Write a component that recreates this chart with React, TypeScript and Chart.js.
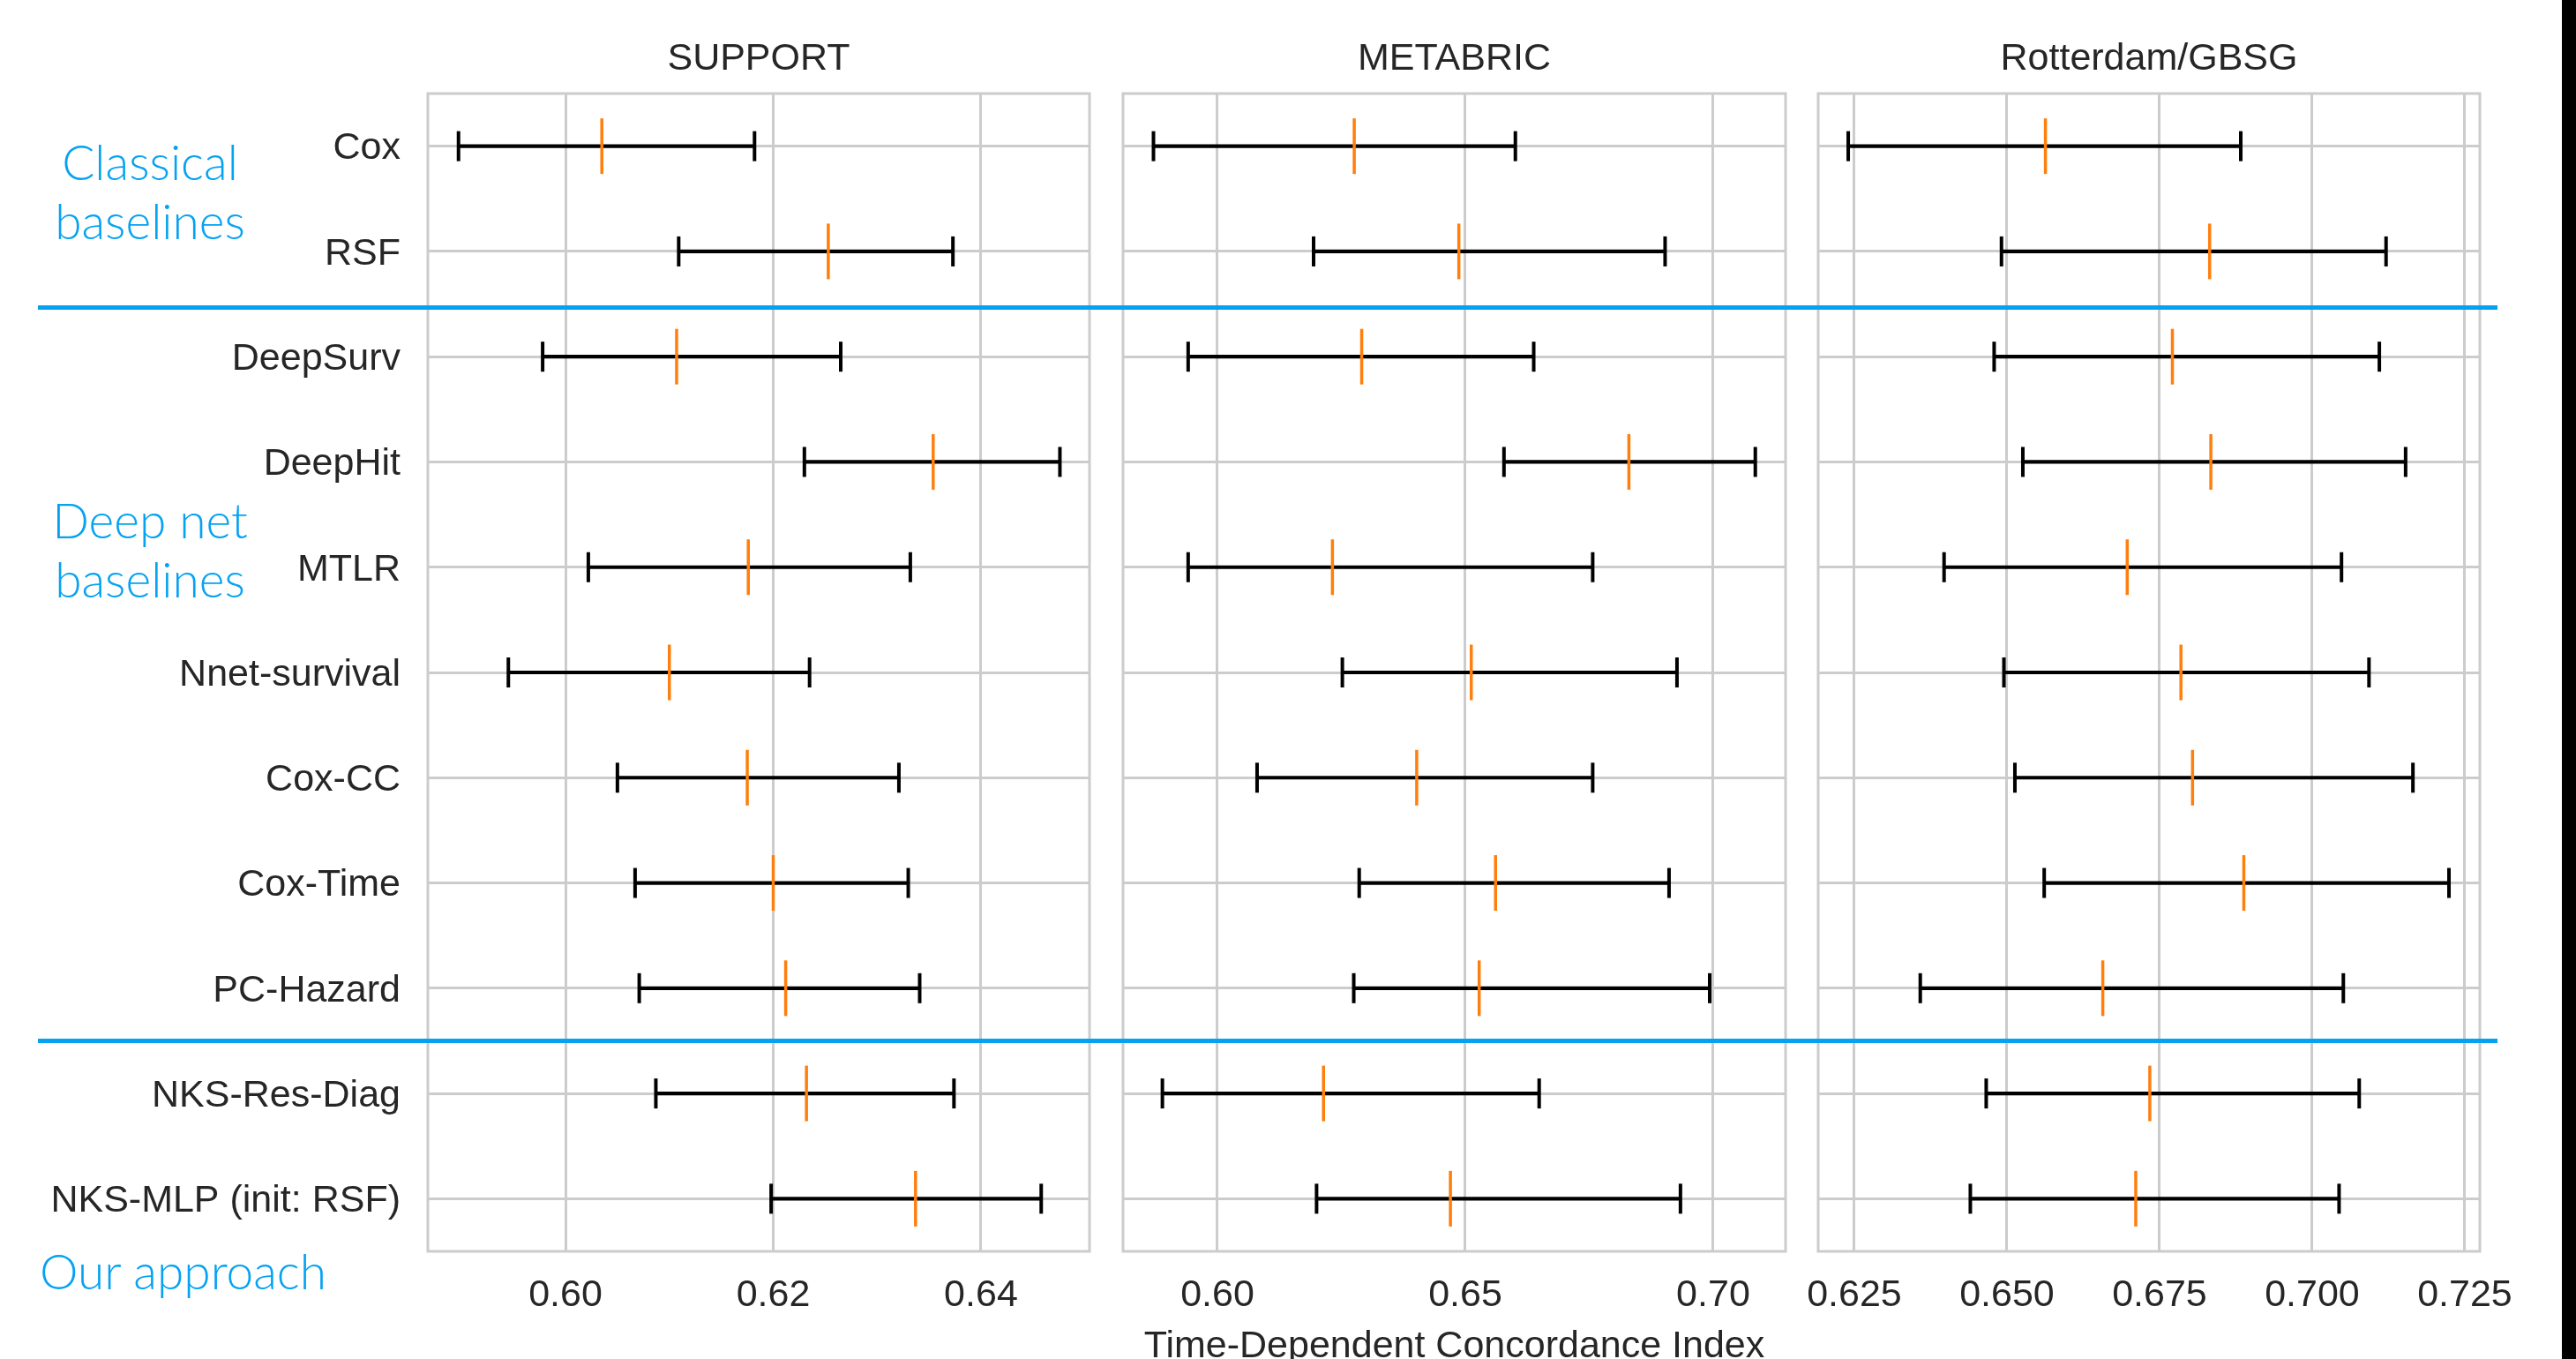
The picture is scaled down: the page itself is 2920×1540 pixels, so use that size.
import React, { useEffect, useRef } from "react";
import { Chart, registerables } from "chart.js";

Chart.register(...registerables);

// ---------- data ----------
const METHODS = [
  "Cox",
  "RSF",
  "DeepSurv",
  "DeepHit",
  "MTLR",
  "Nnet-survival",
  "Cox-CC",
  "Cox-Time",
  "PC-Hazard",
  "NKS-Res-Diag",
  "NKS-MLP (init: RSF)",
];

const SUPPORT_LO = [0.5897, 0.6109, 0.5978, 0.623, 0.6022, 0.5945, 0.605, 0.6067, 0.6071, 0.6087, 0.6198];
const SUPPORT_MED = [0.6035, 0.6253, 0.6107, 0.6354, 0.6176, 0.61, 0.6175, 0.62, 0.6212, 0.6232, 0.6337];
const SUPPORT_HI = [0.6182, 0.6373, 0.6265, 0.6476, 0.6332, 0.6235, 0.6321, 0.633, 0.6341, 0.6374, 0.6458];

const METABRIC_LO = [0.5871, 0.6194, 0.5941, 0.6578, 0.5941, 0.6252, 0.608, 0.6286, 0.6275, 0.5889, 0.62];
const METABRIC_MED = [0.6276, 0.6487, 0.6291, 0.683, 0.6232, 0.6512, 0.6402, 0.6561, 0.6528, 0.6214, 0.647];
const METABRIC_HI = [0.6601, 0.6903, 0.6638, 0.7085, 0.6757, 0.6927, 0.6757, 0.6911, 0.6993, 0.6649, 0.6934];

const GBSG_LO = [0.624, 0.6491, 0.6479, 0.6526, 0.6397, 0.6495, 0.6513, 0.6561, 0.6358, 0.6466, 0.644];
const GBSG_MED = [0.6563, 0.6832, 0.6771, 0.6834, 0.6697, 0.6785, 0.6804, 0.6888, 0.6657, 0.6734, 0.6711];
const GBSG_HI = [0.6883, 0.7121, 0.711, 0.7153, 0.7048, 0.7093, 0.7165, 0.7224, 0.7051, 0.7077, 0.7044];

const SUPPORT_TICKS = [0.6, 0.62, 0.64];
const METABRIC_TICKS = [0.6, 0.65, 0.7];
const GBSG_TICKS = [0.625, 0.65, 0.675, 0.7, 0.725];

const SUPPORT_RANGE = [0.58675, 0.65045];
const METABRIC_RANGE = [0.58096, 0.7146];
const GBSG_RANGE = [0.61908, 0.72746];

const TITLES = ["SUPPORT", "METABRIC", "Rotterdam/GBSG"];
const X_TITLE = "Time-Dependent Concordance Index";

// ---------- style ----------
const W = 2920;
const H = 1540;
const CANVAS_H = 1560;
const FONT = "'Liberation Sans', Arial, Helvetica, sans-serif";
const TEXT = "#262626";
const GRID = "#cccccc";
const BLUE = "#06a2f2";
const ORANGE = "#ff7f0e";

const framePlugin = {
  id: "frame",
  beforeDatasetsDraw(chart: any) {
    const { ctx, chartArea } = chart;
    const { left, top, right, bottom } = chartArea;
    ctx.save();
    ctx.strokeStyle = GRID;
    ctx.lineWidth = 3;
    ctx.strokeRect(left, top, right - left, bottom - top);
    ctx.restore();
  },
};

type PanelProps = {
  title: string;
  lo: number[];
  med: number[];
  hi: number[];
  range: number[];
  ticks: number[];
  decimals: number;
  showY: boolean;
  xTitle?: string;
  left: number;
  right: number;
};

function Panel(p: PanelProps) {
  const ref = useRef<HTMLCanvasElement | null>(null);
  useEffect(() => {
    const canvas = ref.current;
    if (!canvas) return;
    const font = { family: FONT, size: 43, weight: "normal" as const, lineHeight: 1.2 };
    const chart = new Chart(canvas, {
      type: "bar",
      data: {
        labels: METHODS,
        datasets: [
          {
            type: "scatter",
            indexAxis: "x",
            data: p.med.map((v, i) => ({ x: v, y: METHODS[i] })),
            pointStyle: "line",
            pointRotation: 90,
            pointRadius: 31.5,
            pointBorderWidth: 3.5,
            pointBorderColor: ORANGE,
            pointBackgroundColor: ORANGE,
            order: 0,
          } as any,
          {
            type: "scatter",
            indexAxis: "x",
            data: [
              ...p.lo.map((v, i) => ({ x: v, y: METHODS[i] })),
              ...p.hi.map((v, i) => ({ x: v, y: METHODS[i] })),
            ],
            pointStyle: "line",
            pointRotation: 90,
            pointRadius: 17,
            pointBorderWidth: 4,
            pointBorderColor: "#000000",
            pointBackgroundColor: "#000000",
            order: 1,
          } as any,
          {
            type: "bar",
            indexAxis: "y",
            data: p.lo.map((v, i) => [v, p.hi[i]]),
            backgroundColor: "#000000",
            borderWidth: 0,
            barThickness: 3.5,
            order: 2,
          } as any,
        ],
      },
      options: {
        indexAxis: "y",
        responsive: false,
        animation: false,
        devicePixelRatio: 1,
        events: [],
        layout: { padding: { left: p.showY ? 0 : p.left, right: W - p.right, top: 0, bottom: 0 } },
        plugins: {
          legend: { display: false },
          tooltip: { enabled: false },
          title: {
            display: true,
            text: p.title,
            fullSize: false,
            color: TEXT,
            font,
            padding: { top: 41, bottom: 13.4 },
          },
        },
        scales: {
          x: {
            type: "linear",
            min: p.range[0],
            max: p.range[1],
            offset: false,
            beginAtZero: false,
            grid: { color: GRID, lineWidth: 3, drawTicks: false, offset: false },
            border: { display: false },
            ticks: {
              color: TEXT,
              font,
              padding: 24,
              maxRotation: 0,
              autoSkip: false,
              includeBounds: false,
              callback: (v: any) => Number(v).toFixed(p.decimals),
            },
            afterBuildTicks: (s: any) => {
              s.ticks = p.ticks.map((v) => ({ value: v }));
            },
            afterFit: (s: any) => {
              s.height = CANVAS_H - 1418;
              s.paddingLeft = 0;
              s.paddingRight = 0;
            },
            title: {
              display: !!p.xTitle,
              text: p.xTitle || "",
              color: TEXT,
              font,
              padding: { top: 0, bottom: 8.5 },
            },
          },
          y: {
            type: "category",
            labels: METHODS,
            offset: true,
            grid: { color: GRID, lineWidth: 3, drawTicks: false, offset: false },
            border: { display: false },
            ticks: {
              display: p.showY,
              color: TEXT,
              font,
              padding: 31,
              labelOffset: 3,
              autoSkip: false,
            },
            afterFit: (s: any) => {
              s.width = p.showY ? p.left : 0;
              s.paddingTop = 0;
              s.paddingBottom = 0;
            },
          },
        },
      } as any,
      plugins: [framePlugin],
    });
    return () => chart.destroy();
  }, []);
  return (
    <canvas
      ref={ref}
      width={W}
      height={CANVAS_H}
      style={{ position: "absolute", left: 0, top: 0, width: W, height: CANVAS_H }}
    />
  );
}

const groupStyle: React.CSSProperties = {
  position: "absolute",
  color: BLUE,
  fontFamily: "Lato, 'Open Sans', sans-serif",
  fontWeight: 300,
  fontSize: 55,
  lineHeight: "67px",
  textAlign: "center",
  whiteSpace: "nowrap",
};

export default function App() {
  return (
    <div
      style={{
        position: "fixed",
        left: 0,
        top: 0,
        width: W,
        height: H,
        overflow: "hidden",
        background: "#ffffff",
      }}
    >
      <Panel
        title={TITLES[0]}
        lo={SUPPORT_LO}
        med={SUPPORT_MED}
        hi={SUPPORT_HI}
        range={SUPPORT_RANGE}
        ticks={SUPPORT_TICKS}
        decimals={2}
        showY={true}
        left={485}
        right={1235}
      />
      <Panel
        title={TITLES[1]}
        lo={METABRIC_LO}
        med={METABRIC_MED}
        hi={METABRIC_HI}
        range={METABRIC_RANGE}
        ticks={METABRIC_TICKS}
        decimals={2}
        showY={false}
        xTitle={X_TITLE}
        left={1273}
        right={2024}
      />
      <Panel
        title={TITLES[2]}
        lo={GBSG_LO}
        med={GBSG_MED}
        hi={GBSG_HI}
        range={GBSG_RANGE}
        ticks={GBSG_TICKS}
        decimals={3}
        showY={false}
        left={2061}
        right={2811}
      />
      <div style={{ ...groupStyle, left: 0, width: 340, top: 150 }}>
        Classical
        <br />
        baselines
      </div>
      <div style={{ ...groupStyle, left: 0, width: 340, top: 556 }}>
        Deep net
        <br />
        baselines
      </div>
      <div style={{ ...groupStyle, left: 0, width: 415, top: 1407 }}>Our approach</div>
      <div style={{ position: "absolute", left: 43, width: 2831 - 43, top: 346, height: 5, background: BLUE }} />
      <div style={{ position: "absolute", left: 43, width: 2831 - 43, top: 1177, height: 4.5, background: BLUE }} />
      <div style={{ position: "absolute", left: 2904, width: 16, top: 0, height: H, background: "#000000" }} />
    </div>
  );
}
